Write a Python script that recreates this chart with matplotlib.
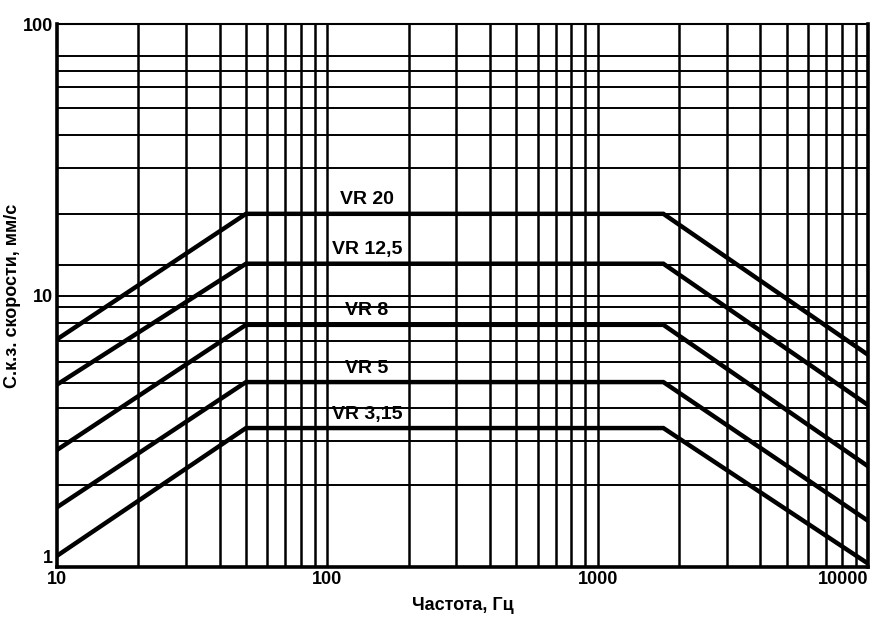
import matplotlib
matplotlib.use('Agg')
import matplotlib.pyplot as plt
from matplotlib.ticker import FixedLocator, NullFormatter

plt.rcParams['font.family'] = ['Liberation Sans', 'DejaVu Sans']
plt.rcParams['font.weight'] = 'bold'

# точки излома кривых, Гц
freq = [10, 50, 1750, 10000]

vr20 = [6.9, 20, 20, 6.05]
vr12_5 = [4.7, 13.1, 13.1, 3.95]
vr8 = [2.7, 7.8, 7.8, 2.35]
vr5 = [1.66, 4.8, 4.8, 1.48]
vr3_15 = [1.1, 3.25, 3.25, 1.03]

names = ['VR 20', 'VR 12,5', 'VR 8', 'VR 5', 'VR 3,15']
curves = [vr20, vr12_5, vr8, vr5, vr3_15]
label_freq = 140

x_major = [10, 100, 1000, 10000]
x_labels = ['10', '100', '1000', '10000']
x_minor = [m * d for d in [10, 100, 1000] for m in range(2, 10)]
y_major = [1, 10, 100]
y_labels = ['1', '10', '100']
# горизонтальные линии сетки (шкала нарисована неровно)
y_minor = [2, 2.9, 3.85, 4.75, 5.7, 6.8, 7.9, 9.1,
           13, 20, 29.5, 39, 49, 58.5, 67, 76]

fig = plt.figure(figsize=(8.72, 6.17), dpi=100)
ax = fig.add_axes([0.0654, 0.081, 0.93, 0.88])
ax.set_xscale('log')
ax.set_yscale('log')
ax.set_xlim(10, 10000)
ax.set_ylim(1, 100)

for x in x_major[1:-1] + x_minor:
    ax.axvline(x, color='black', lw=1.8, zorder=1)
for y in y_major[1:-1] + y_minor:
    ax.axhline(y, color='black', lw=1.4, zorder=1)

for name, c in zip(names, curves):
    ax.plot(freq, c, color='black', lw=3.2, solid_joinstyle='miter', zorder=3)
    ax.annotate(name, xy=(label_freq, c[1]), xytext=(0, 10),
                textcoords='offset points', ha='center', va='center',
                fontsize=14, fontweight='bold', zorder=4)

ax.xaxis.set_major_locator(FixedLocator(x_major))
ax.xaxis.set_minor_locator(FixedLocator(x_minor))
ax.yaxis.set_major_locator(FixedLocator(y_major))
ax.yaxis.set_minor_locator(FixedLocator(y_minor))
ax.xaxis.set_minor_formatter(NullFormatter())
ax.yaxis.set_minor_formatter(NullFormatter())
ax.set_xticklabels(x_labels, fontsize=13, fontweight='bold')
ax.set_yticklabels(y_labels, fontsize=13, fontweight='bold')
ax.get_xticklabels()[-1].set_horizontalalignment('right')
ax.get_yticklabels()[0].set_verticalalignment('bottom')
ax.tick_params(which='both', length=0, pad=3)

for side in ['left', 'bottom', 'right']:
    ax.spines[side].set_linewidth(2.6)
ax.spines['top'].set_linewidth(1.5)

ax.set_xlabel('Частота, Гц', fontsize=13, fontweight='bold')
ax.set_ylabel('С.к.з. скорости, мм/с', fontsize=13, fontweight='bold')
ax.xaxis.set_label_coords(0.5, -0.055)
ax.yaxis.set_label_coords(-0.045, 0.5)

fig.savefig('out.png', dpi=100)
